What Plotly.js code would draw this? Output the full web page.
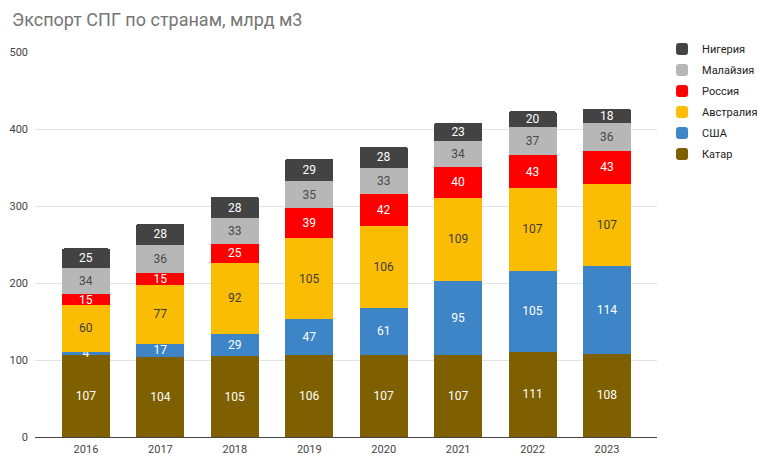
<!DOCTYPE html>
<html>
<head>
<meta charset="utf-8">
<script src="https://cdn.plot.ly/plotly-3.0.1.min.js"></script>
<style>html,body{margin:0;padding:0;background:#fff;}#chart{width:758px;height:459px;}</style>
</head>
<body>
<div id="chart"></div>
<script>
const years = ['2016','2017','2018','2019','2020','2021','2022','2023'];
const qatar = [107,104,105,106,107,107,111,108];
const usa = [4,17,29,47,61,95,105,114];
const australia = [60,77,92,105,106,109,107,107];
const russia = [15,15,25,39,42,40,43,43];
const malaysia = [34,36,33,35,33,34,37,36];
const nigeria = [25,28,28,29,28,23,20,18];
const yTicks = [0,100,200,300,400,500];

const series = [
  {name:'Катар', y:qatar, color:'#7f6000', txt:'#ffffff'},
  {name:'США', y:usa, color:'#3d85c6', txt:'#ffffff'},
  {name:'Австралия', y:australia, color:'#fbbc04', txt:'#3c3c3c'},
  {name:'Россия', y:russia, color:'#ff0000', txt:'#ffffff'},
  {name:'Малайзия', y:malaysia, color:'#b7b7b7', txt:'#4a4a4a'},
  {name:'Нигерия', y:nigeria, color:'#434343', txt:'#ffffff'}
];

const traces = series.map((s, i) => ({
  type:'bar', name:s.name, x:years, y:s.y, legendgroup:'g' + i,
  legendrank: series.length - i,
  marker:{color:s.color, line:{width:0}},
  text:s.y.map(String), textposition:'inside', insidetextanchor:'middle',
  textangle:0, constraintext:'none',
  textfont:{family:'Roboto, Arial, sans-serif', size:12, color:s.txt},
  width:0.645, hoverinfo:'name+y', cliponaxis:false
}));

const layout = {
  width:758, height:459,
  margin:{l:35, r:101, t:52, b:22, pad:0},
  barmode:'stack',
  barcornerradius:2,
  paper_bgcolor:'#ffffff', plot_bgcolor:'#ffffff',
  font:{family:'Roboto, Arial, sans-serif', size:11, color:'#444'},
  uniformtext:{mode:'show', minsize:12},
  title:{text:'Экспорт СПГ по странам, млрд м3', xref:'container', yref:'container',
    x:12/758, xanchor:'left', y:1-20/459, yanchor:'middle',
    font:{family:'Roboto, Arial, sans-serif', size:18, color:'#757575'}},
  xaxis:{type:'category', range:[-0.685, 7.672], showgrid:false, showline:false,
    ticks:'', ticklabelstandoff:4, tickfont:{size:11, color:'#444'}, fixedrange:true},
  yaxis:{range:[0,500], tickvals:yTicks, ticktext:yTicks.map(String),
    showgrid:true, gridcolor:'#e3e3e3', gridwidth:1,
    zeroline:true, zerolinecolor:'#444', zerolinewidth:1,
    ticks:'', ticklabelstandoff:6, tickfont:{size:11, color:'#444'}, fixedrange:true},
  showlegend:true,
  legend:{traceorder:'grouped', xref:'container', yref:'container',
    x:0.8734, xanchor:'left', y:0.925, yanchor:'top',
    font:{size:11, color:'#222'}, bgcolor:'rgba(0,0,0,0)', tracegroupgap:2,
    itemwidth:30}
};

Plotly.newPlot('chart', traces, layout, {displayModeBar:false, staticPlot:true});
</script>
</body>
</html>
